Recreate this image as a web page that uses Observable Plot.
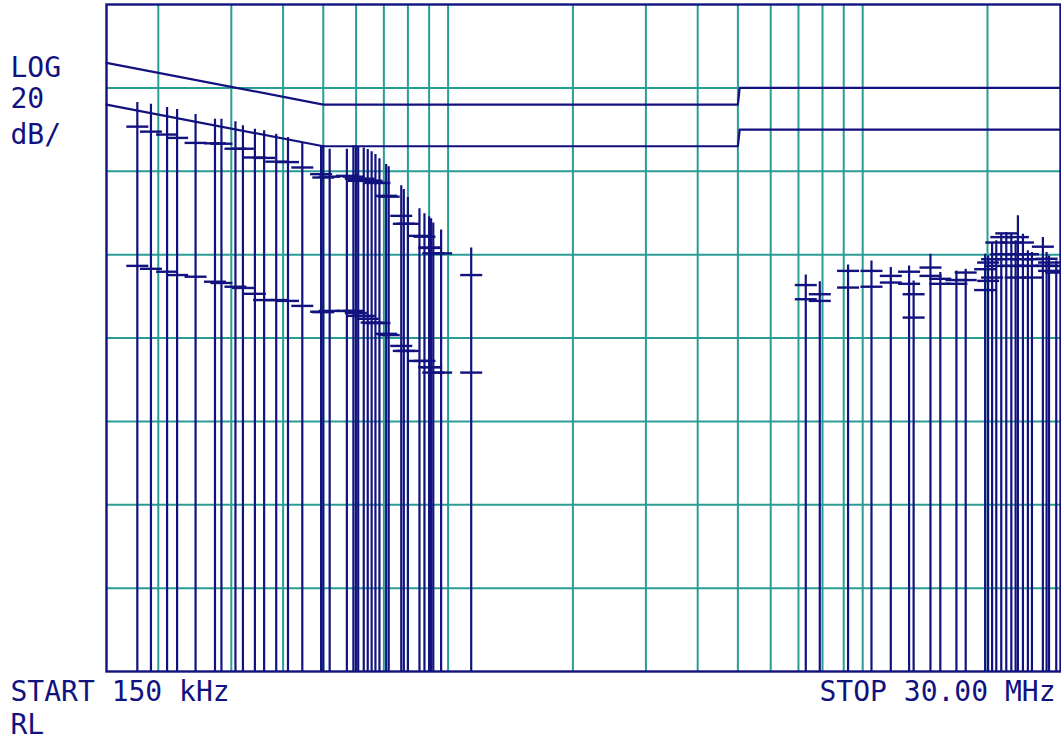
<!DOCTYPE html>
<html>
<head>
<meta charset="utf-8">
<script src="https://cdn.jsdelivr.net/npm/d3@7"></script>
<script src="https://cdn.jsdelivr.net/npm/@observablehq/plot@0.6"></script>
<style>
  html, body { margin: 0; padding: 0; background: #fff; }
  #chart svg { display: block; }
</style>
</head>
<body>
<div id="chart"></div>
<script>
// ---- Data (frequency in MHz, levels in dBµV) ----
const freqMHz = [
  0.178, 0.192, 0.210, 0.222, 0.246, 0.274, 0.284, 0.307, 0.320, 0.342,
  0.360, 0.385, 0.411, 0.445, 0.494, 0.500, 0.518, 0.570, 0.591, 0.599,
  0.607, 0.626, 0.640, 0.654, 0.668, 0.683, 0.709, 0.719, 0.771, 0.782,
  0.800, 0.853, 0.877, 0.900, 0.910, 0.921, 0.962, 1.137,
  7.29, 7.88, 9.22, 10.50, 11.69, 12.94, 13.27, 14.57, 15.39, 16.83,
  17.72, 19.74, 20.07, 20.52, 21.0, 21.59, 22.2, 22.83, 23.38, 23.68,
  24.35, 25.03, 25.6, 27.2, 27.77, 28.15, 29.3
];
const peakDb = [
  56.5, 56.1, 55.3, 54.8, 53.6, 52.5, 52.5, 51.9, 50.9, 50.1,
  49.7, 48.9, 48.1, 46.9, 46.1, 46.1, 45.3, 45.3, 46.1, 46.1,
  45.9, 45.6, 45.2, 44.7, 44.0, 43.0, 41.6, 41.1, 36.5, 35.6,
  33.7, 31.0, 29.8, 29.1, 28.6, 27.6, 25.9, 21.6,
  15.1, 13.5, 17.5, 18.5, 16.9, 17.3, 13.7, 20.1, 15.7, 16.1,
  16.5, 20.1, 19.7, 22.9, 23.3, 24.9, 25.3, 24.9, 23.3, 29.3,
  24.9, 20.9, 20.5, 24.1, 20.5, 19.7, 18.5
];
const qpDb = [
  50.7, 49.5, 48.8, 48.0, 46.8, 46.7, 46.6, 45.4, 45.4, 43.3,
  43.2, 42.3, 42.2, 40.9, 39.3, 38.5, 38.7, 38.9, 38.7, 38.2,
  37.7, 38.2, 37.7, 37.7, 37.2, 37.2, 34.1, 33.9, 29.3, 27.4,
  27.4, 24.5, 24.3, 21.7, 21.6, 20.3, 20.3, 15.1,
  12.7, 10.5, 16.1, 16.1, 14.9, 15.9, 10.5, 16.9, 14.2, 13.9,
  15.7, 16.5, 18.1, 18.9, 22.9, 24.2, 25.1, 22.9, 20.1, 24.2,
  22.9, 20.1, 18.9, 21.9, 19.0, 18.1, 17.3
];
const avDb = [
  17.3, 16.6, 15.9, 15.1, 14.7, 13.5, 13.2, 12.3, 12.0, 10.6,
  9.1, 9.1, 8.9, 7.7, 6.3, 6.2, 6.5, 6.5, 6.5, 6.0,
  5.3, 5.3, 4.6, 3.7, 3.6, 3.6, 1.0, 0.7, -1.9, -3.1,
  -3.1, -5.5, -5.5, -7.0, -7.0, -8.3, -8.3, -8.3,
  9.3, 8.9, 12.1, 12.3, 13.3, 13.0, 4.9, 14.9, 13.0, 13.0,
  13.9, 11.5, 13.7, 14.5, 17.3, 20.1, 18.9, 17.3, 14.5, 17.3,
  18.9, 17.3, 14.5, 17.3, 17.3, 16.1, 15.7
];

// Limit lines (quasi-peak and average)
const qpLimitF  = [0.15, 0.5, 5, 5.05, 30];
const qpLimitDb = [66, 56, 56, 60, 60];
const avLimitF  = [0.15, 0.5, 5, 5.05, 30];
const avLimitDb = [56, 46, 46, 50, 50];

// Grid
const gridFreqs = [0.2, 0.3, 0.4, 0.5, 0.6, 0.7, 0.8, 0.9, 1, 2, 3, 4, 5, 6, 7, 8, 9, 10, 20];
const gridLevels = [-60, -40, -20, 0, 20, 40, 60];
const yDomain = [-80, 80];
const xDomain = [0.15, 30];

// Texts
const leftLabels = ["LOG", "20", "dB/"];
const startLabel = "START 150 kHz";
const rlLabel = "RL";
const stopLabel = "STOP 30.00 MHz";

// ---- Build tables ----
const signals = freqMHz.map((f, i) => ({ f, peak: peakDb[i], qp: qpDb[i], av: avDb[i] }));
const qpLimit = qpLimitF.map((f, i) => ({ f, db: qpLimitDb[i] }));
const avLimit = avLimitF.map((f, i) => ({ f, db: avLimitDb[i] }));

const NAVY = "#12127f";
const TEAL = "#2a9c96";
const FONT = "DejaVu Sans Mono";
const TICK = 1.063; // half-width factor of level ticks on the log axis

const textOpts = { fill: NAVY, fontFamily: FONT, fontSize: 28, lineAnchor: "middle", text: d => d };

const chart = Plot.plot({
  width: 1061,
  height: 742,
  marginLeft: 106,
  marginRight: 1,
  marginTop: 4,
  marginBottom: 71,
  style: { background: "#fff", fontFamily: FONT, overflow: "visible" },
  x: { type: "log", domain: xDomain, axis: null },
  y: { domain: yDomain, axis: null },
  marks: [
    Plot.ruleX(gridFreqs, { x: d => d, stroke: TEAL, strokeWidth: 2 }),
    Plot.ruleY(gridLevels, { y: d => d, stroke: TEAL, strokeWidth: 2 }),
    Plot.line(qpLimit, { x: "f", y: "db", stroke: NAVY, strokeWidth: 2.2 }),
    Plot.line(avLimit, { x: "f", y: "db", stroke: NAVY, strokeWidth: 2.2 }),
    Plot.ruleX(signals, { x: "f", y1: yDomain[0], y2: "peak", stroke: NAVY, strokeWidth: 2.2 }),
    Plot.link(signals, { x1: d => d.f / TICK, x2: d => d.f * TICK, y1: "qp", y2: "qp", stroke: NAVY, strokeWidth: 2.4 }),
    Plot.link(signals, { x1: d => d.f / TICK, x2: d => d.f * TICK, y1: "av", y2: "av", stroke: NAVY, strokeWidth: 2.4 }),
    Plot.frame({ stroke: NAVY, strokeWidth: 2.4 }),
    Plot.text([leftLabels[0]], { ...textOpts, frameAnchor: "top-left", textAnchor: "start", dx: -96, dy: 64 }),
    Plot.text([leftLabels[1]], { ...textOpts, frameAnchor: "top-left", textAnchor: "start", dx: -96, dy: 95 }),
    Plot.text([leftLabels[2]], { ...textOpts, frameAnchor: "top-left", textAnchor: "start", dx: -96, dy: 131 }),
    Plot.text([startLabel], { ...textOpts, frameAnchor: "bottom-left", textAnchor: "start", dx: -96, dy: 21 }),
    Plot.text([rlLabel], { ...textOpts, frameAnchor: "bottom-left", textAnchor: "start", dx: -96, dy: 54 }),
    Plot.text([stopLabel], { ...textOpts, frameAnchor: "bottom-right", textAnchor: "end", dx: -5, dy: 21 })
  ]
});
document.getElementById("chart").appendChild(chart);
</script>
</body>
</html>
